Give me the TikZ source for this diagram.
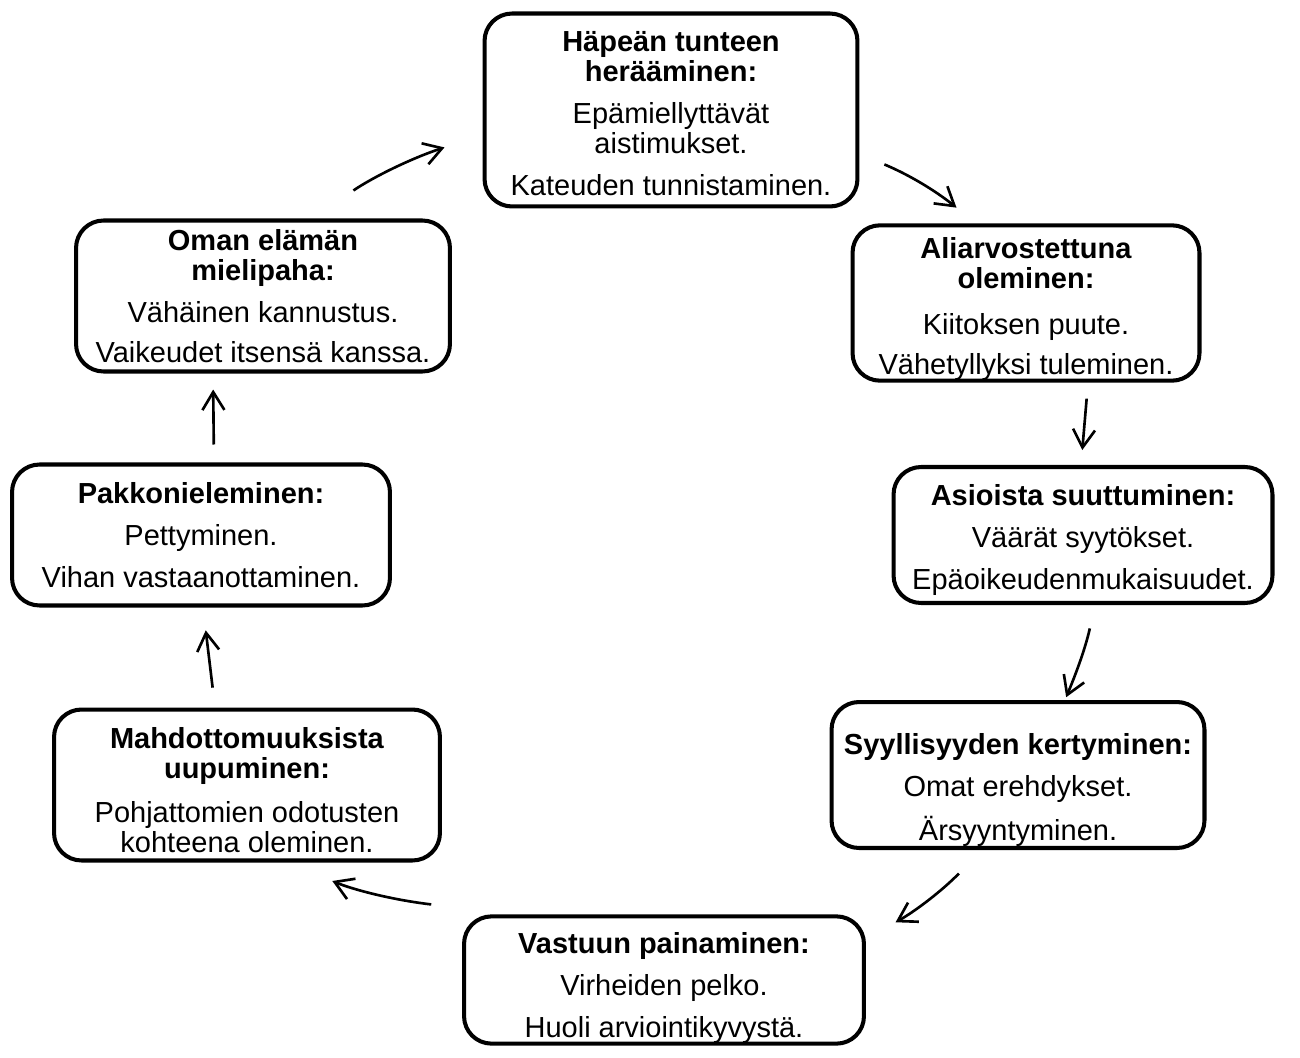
\documentclass[tikz,border=0pt]{standalone}
\usepackage{fontspec}
\setmainfont{Liberation Sans}
\usetikzlibrary{positioning, calc, arrows.meta}

\tikzset{
  box/.style={draw, line width=2.3pt, rounded corners=0.55cm, align=center,
    inner sep=0pt, font=\fontsize{16.5}{17}\selectfont},
  flow/.style={line width=1.5pt, -{Straight Barb[length=3.6mm,width=4.4mm]}},
}
\newcommand{\lowerby}[1]{\rule{0pt}{#1}}

\begin{document}
\begin{tikzpicture}[x=0.02cm, y=-0.02cm]
        \useasboundingbox (0,0) rectangle (1300,1057);
        % nodes
        \node[box, minimum width=7.46cm, minimum height=3.86cm] (n1) at (671,110)
          {\textbf{\lowerby{16pt}Häpeän tunteen}\\\textbf{herääminen:}\\[7pt]Epämiellyttävät\\aistimukset.\\[7pt]Kateuden tunnistaminen.};
        \node[box, minimum width=6.94cm, minimum height=3.06cm] (n2) at (1026,303)
          {\textbf{\lowerby{19pt}Aliarvostettuna}\\\textbf{oleminen:}\\[9pt]Kiitoksen puute.\\[6pt]Vähetyllyksi tuleminen.};
        \node[box, minimum width=7.58cm, minimum height=2.72cm] (n3) at (1083,535)
          {\textbf{\lowerby{18pt}Asioista suuttuminen:}\\[7pt]Väärät syytökset.\\[7pt]Epäoikeudenmukaisuudet.};
        \node[box, minimum width=7.46cm, minimum height=2.92cm] (n4) at (1018,775)
          {\textbf{\lowerby{29pt}Syyllisyyden kertyminen:}\\[7pt]Omat erehdykset.\\[7pt]Ärsyyntyminen.};
        \node[box, minimum width=8.0cm, minimum height=2.54cm] (n5) at (664,980)
          {\textbf{\lowerby{21pt}Vastuun painaminen:}\\[7pt]Virheiden pelko.\\[7pt]Huoli arviointikyvystä.};
        \node[box, minimum width=7.72cm, minimum height=3.02cm] (n6) at (247,785)
          {\textbf{\lowerby{18pt}Mahdottomuuksista}\\\textbf{uupuminen:}\\[8pt]Pohjattomien odotusten\\kohteena oleminen.};
        \node[box, minimum width=7.56cm, minimum height=2.82cm] (n7) at (201,535)
          {\textbf{Pakkonieleminen:}\\[7pt]Pettyminen.\\[7pt]Vihan vastaanottaminen.};
        \node[box, minimum width=7.48cm, minimum height=3.02cm] (n8) at (263,296)
          {\textbf{Oman elämän}\\\textbf{mielipaha:}\\[7pt]Vähäinen kannustus.\\[6pt]Vaikeudet itsensä kanssa.};
        % arrows
        \draw[flow, shorten <=1cm, shorten >=0.8cm] ($(n8.north)+(49,0)$) to[bend left=8] ($(n1.west)+(0,25)$);
        \draw[flow, shorten <=0.54cm, shorten >=0.5cm] ($(n1.east)+(0,44)$) to[bend left=8] ($(n2.north)+(-50,0)$);
        \draw[flow, shorten <=0.32cm, shorten >=0.3cm] ($(n2.south)+(62,0)$) -- ($(n3.north)+(-2,0)$);
        \draw[flow, shorten <=0.48cm, shorten >=0.06cm] ($(n3.south)+(12,0)$) to[bend left=5] ($(n4.north)+(47,0)$);
        \draw[flow, shorten <=0.66cm, shorten >=0.68cm] ($(n4.south)+(-36,0)$) to[bend left=8] ($(n5.east)+(0,-41)$);
        \draw[flow, shorten <=0.62cm, shorten >=0.96cm] ($(n5.west)+(0,-72)$) to[bend left=8] ($(n6.south)+(41,0)$);
        \draw[flow, shorten <=0.4cm, shorten >=0.46cm] ($(n6.north)+(-32,0)$) -- ($(n7.south)+(2,0)$);
        \draw[flow, shorten <=0.36cm, shorten >=0.32cm] ($(n7.north)+(13,0)$) -- ($(n8.south)+(-50,0)$);
\end{tikzpicture}
\end{document}
